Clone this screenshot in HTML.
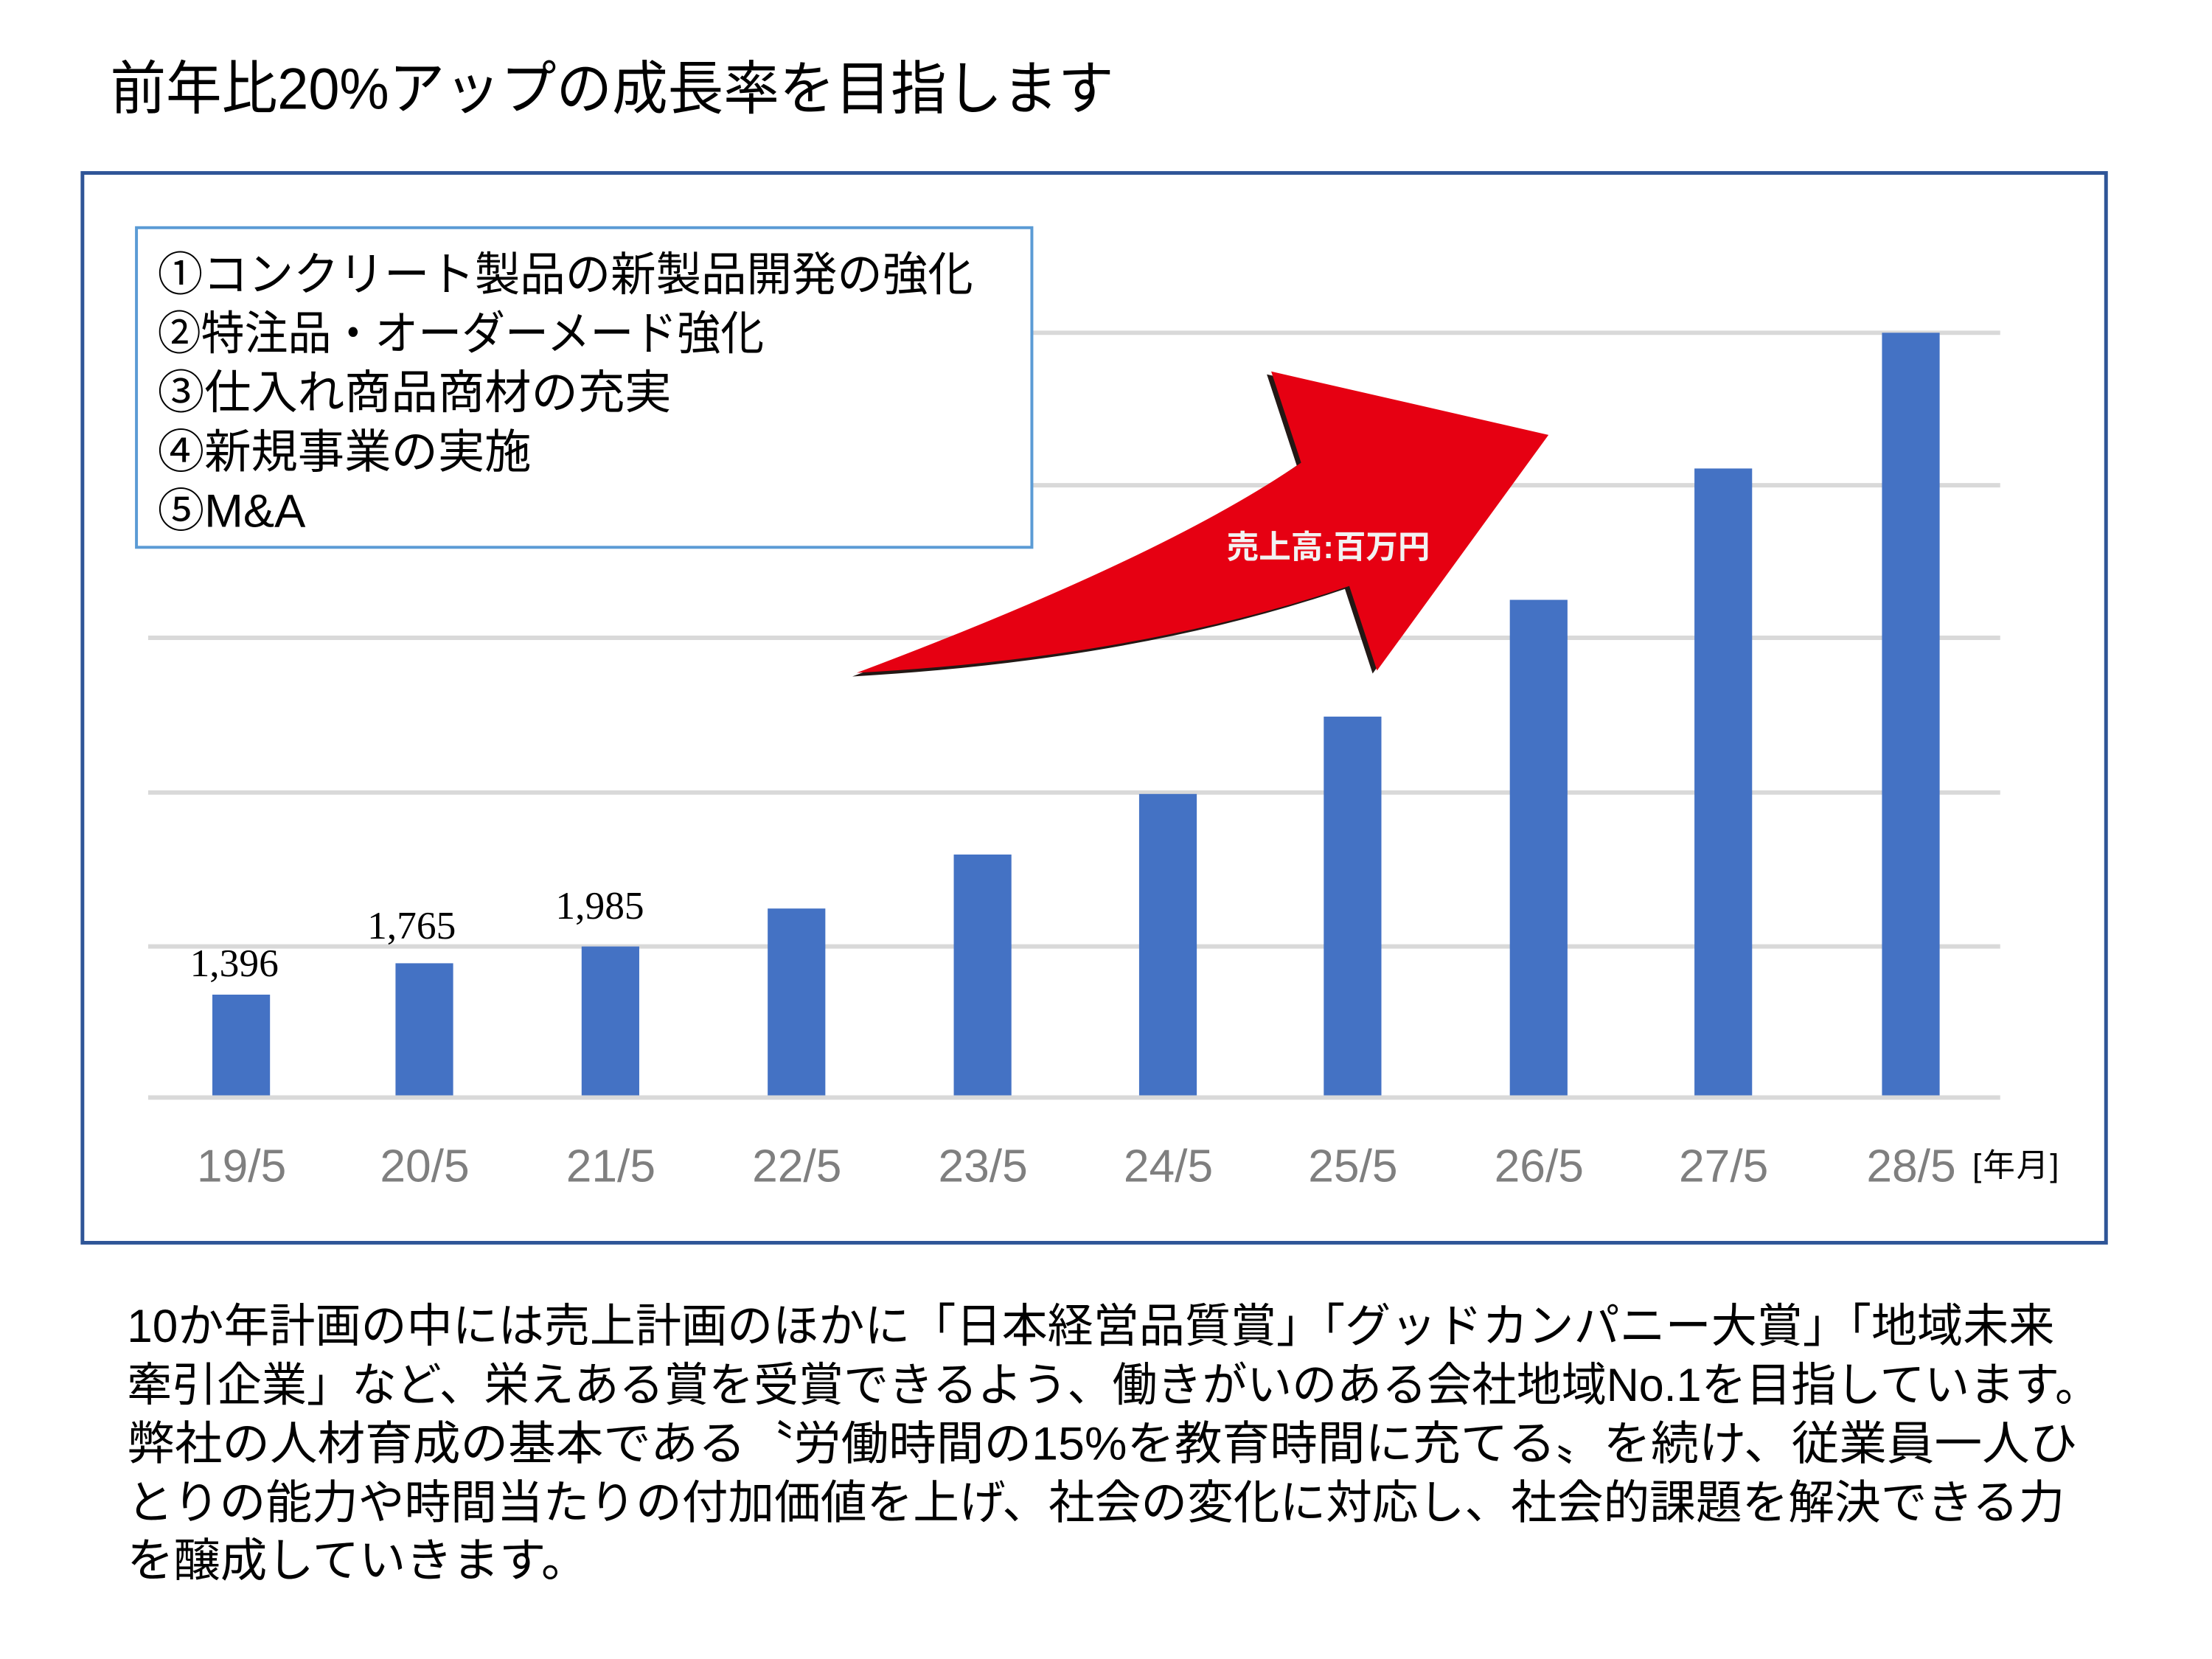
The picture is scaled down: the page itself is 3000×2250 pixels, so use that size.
<!DOCTYPE html>
<html><head><meta charset="utf-8"><style>
html,body{margin:0;padding:0;background:#fff;}
body{width:3000px;height:2250px;position:relative;overflow:hidden;font-family:"Liberation Sans","Noto Sans CJK JP",sans-serif;}
#w{position:absolute;left:0;top:0;width:3000px;height:2250px;transform:scale(0.9897);transform-origin:0 0;}
.t{position:absolute;white-space:nowrap;}
.bl{position:absolute;left:174px;font-size:64px;line-height:80px;white-space:nowrap;transform-origin:0 0;}
</style></head><body><div id="w">
<div class="t" style="left:151px;top:72px;font-size:80px;line-height:100px;color:#000;transform:scaleX(0.955);transform-origin:0 0;">前年比20%アップの成長率を目指します</div>

<svg width="3000" height="2250" style="position:absolute;left:0;top:0">
<rect x="113" y="237" width="2773" height="1466" fill="none" stroke="#2f5597" stroke-width="5"/>
<g stroke="#d9d9d9" stroke-width="6">
<line x1="203" x2="2741" y1="456" y2="456"/>
<line x1="203" x2="2741" y1="665" y2="665"/>
<line x1="203" x2="2741" y1="874" y2="874"/>
<line x1="203" x2="2741" y1="1086" y2="1086"/>
<line x1="203" x2="2741" y1="1297" y2="1297"/>
<line x1="203" x2="2741" y1="1504" y2="1504"/>
</g>
<g fill="#4472c4">
<rect x="291" y="1363" width="79" height="138"/>
<rect x="542" y="1320" width="79" height="181"/>
<rect x="797" y="1297" width="79" height="204"/>
<rect x="1052" y="1245" width="79" height="256"/>
<rect x="1307" y="1171" width="79" height="330"/>
<rect x="1561" y="1088" width="79" height="413"/>
<rect x="1814" y="982" width="79" height="519"/>
<rect x="2069" y="822" width="79" height="679"/>
<rect x="2322" y="642" width="79" height="859"/>
<rect x="2579" y="456" width="79" height="1045"/>
</g>
<rect x="187" y="312" width="1227" height="438" fill="#fff" stroke="#5b9bd5" stroke-width="4"/>
<path d="M1168 927 Q1588 768 1777 638 L1736 513 L2116 600 L1881 923 L1843 807 Q1556 905 1168 927 Z" fill="#231815"/>
<path d="M1174 922 Q1594 764 1783 634 L1742 509 L2122 596 L1887 919 L1849 803 Q1562 901 1174 922 Z" fill="#e60012"/>
</svg>

<div class="t" style="left:216px;top:336px;font-size:64px;line-height:80px;transform:scaleX(0.97);transform-origin:0 0;">①コンクリート製品の新製品開発の強化</div>
<div class="t" style="left:216px;top:417px;font-size:64px;line-height:80px;transform:scaleX(0.93);transform-origin:0 0;">②特注品・オーダーメード強化</div>
<div class="t" style="left:216px;top:498px;font-size:64px;line-height:80px;">③仕入れ商品商材の充実</div>
<div class="t" style="left:216px;top:579px;font-size:64px;line-height:80px;">④新規事業の実施</div>
<div class="t" style="left:216px;top:660px;font-size:64px;line-height:80px;">⑤M&amp;A</div>

<div class="t" style="left:1681px;top:726px;font-size:44px;line-height:50px;color:#f2f2f2;font-weight:bold;">売上高:百万円</div>

<div class="t" style="left:241px;top:1290px;width:160px;text-align:center;font-family:'Liberation Serif',serif;font-size:54px;line-height:60px;">1,396</div>
<div class="t" style="left:484px;top:1238px;width:160px;text-align:center;font-family:'Liberation Serif',serif;font-size:54px;line-height:60px;">1,765</div>
<div class="t" style="left:742px;top:1211px;width:160px;text-align:center;font-family:'Liberation Serif',serif;font-size:54px;line-height:60px;">1,985</div>

<div style="position:absolute;left:0;top:1561px;font-size:63px;line-height:74px;color:#7f7f7f;">
<span class="t" style="left:251px;width:160px;text-align:center">19/5</span>
<span class="t" style="left:502px;width:160px;text-align:center">20/5</span>
<span class="t" style="left:757px;width:160px;text-align:center">21/5</span>
<span class="t" style="left:1012px;width:160px;text-align:center">22/5</span>
<span class="t" style="left:1267px;width:160px;text-align:center">23/5</span>
<span class="t" style="left:1521px;width:160px;text-align:center">24/5</span>
<span class="t" style="left:1774px;width:160px;text-align:center">25/5</span>
<span class="t" style="left:2029px;width:160px;text-align:center">26/5</span>
<span class="t" style="left:2282px;width:160px;text-align:center">27/5</span>
<span class="t" style="left:2539px;width:160px;text-align:center">28/5</span>
</div>
<div class="t" style="left:2703px;top:1571px;font-size:44px;line-height:54px;color:#000;letter-spacing:2px;">[年月]</div>

<div class="bl" style="top:1777px;transform:scaleX(0.98);">10か年計画の中には売上計画のほかに「日本経営品質賞」「グッドカンパニー大賞」「地域未来</div>
<div class="bl" style="top:1858px;transform:scaleX(0.962);">牽引企業」など、栄えある賞を受賞できるよう、働きがいのある会社地域No.1を目指しています。</div>
<div class="bl" style="top:1938px;transform:scaleX(1.02);">弊社の人材育成の基本である〝労働時間の15%を教育時間に充てる〟を続け、従業員一人ひ</div>
<div class="bl" style="top:2019px;transform:scaleX(0.99);">とりの能力や時間当たりの付加価値を上げ、社会の変化に対応し、社会的課題を解決できる力</div>
<div class="bl" style="top:2098px;">を醸成していきます。</div>
</div></body></html>
